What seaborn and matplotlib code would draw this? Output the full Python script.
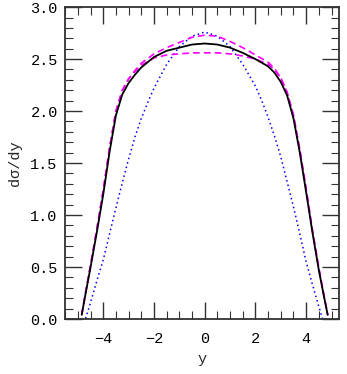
import matplotlib
matplotlib.use("Agg")
import matplotlib.pyplot as plt
import seaborn as sns
from matplotlib.ticker import MultipleLocator, FormatStrFormatter

# rapidity grid and curves
y_full = [-4.85, -4.7, -4.5, -4.25, -4.0, -3.75, -3.5, -3.25, -3.0, -2.75, -2.5,
          -2.0, -1.5, -1.0, -0.5, 0.0, 0.5, 1.0, 1.5, 2.0, 2.5, 2.75, 3.0,
          3.25, 3.5, 3.75, 4.0, 4.25, 4.5, 4.7, 4.85]
solid = [0.04, 0.24, 0.50, 0.84, 1.20, 1.61, 1.96, 2.16, 2.27, 2.35, 2.42,
         2.52, 2.58, 2.61, 2.64, 2.65, 2.64, 2.61, 2.56, 2.50, 2.43, 2.37, 2.28,
         2.15, 1.93, 1.60, 1.22, 0.83, 0.47, 0.22, 0.04]
dash_hi = [0.04, 0.25, 0.52, 0.87, 1.24, 1.65, 2.00, 2.20, 2.31, 2.39, 2.46,
           2.55, 2.61, 2.66, 2.71, 2.73, 2.72, 2.67, 2.61, 2.54, 2.47, 2.41, 2.32,
           2.18, 1.96, 1.63, 1.25, 0.85, 0.49, 0.23, 0.04]
dash_lo = [0.04, 0.25, 0.52, 0.87, 1.24, 1.65, 2.00, 2.20, 2.31, 2.38, 2.44,
           2.51, 2.54, 2.55, 2.56, 2.56, 2.56, 2.55, 2.53, 2.50, 2.45, 2.40, 2.32,
           2.18, 1.96, 1.63, 1.25, 0.85, 0.49, 0.23, 0.04]

y_dot = [-5.4, -4.7, -4.5, -4.25, -4.0, -3.75, -3.5, -3.25, -3.0, -2.75, -2.5,
         -2.25, -2.0, -1.5, -1.0, -0.5, 0.0, 0.5, 1.0, 1.5, 2.0, 2.25, 2.5,
         2.75, 3.0, 3.25, 3.5, 3.75, 4.0, 4.25, 4.5, 4.65]
dotted = [0.0, 0.0, 0.16, 0.37, 0.57, 0.82, 1.07, 1.31, 1.54, 1.75, 1.93,
          2.08, 2.22, 2.45, 2.62, 2.72, 2.76, 2.72, 2.62, 2.45, 2.24, 2.10, 1.94,
          1.76, 1.56, 1.32, 1.08, 0.82, 0.55, 0.33, 0.12, 0.0]

sns.set_style("ticks")
plt.rcParams["font.family"] = ["Liberation Mono", "DejaVu Sans"]

fig = plt.figure(figsize=(3.47, 3.74), dpi=100)
ax = fig.add_axes([0.1865, 0.147, 0.7915, 0.834])

sns.lineplot(x=y_dot, y=dotted, ax=ax, color="blue", linestyle=(0, (1, 2)),
             linewidth=1.1, sort=False)
sns.lineplot(x=y_full, y=dash_lo, ax=ax, color="magenta", linestyle=(0, (4, 2.5)),
             linewidth=1.2, sort=False)
sns.lineplot(x=y_full, y=dash_hi, ax=ax, color="magenta", linestyle=(0, (4, 2.5)),
             linewidth=1.2, sort=False)
sns.lineplot(x=y_full, y=solid, ax=ax, color="black", linewidth=1.3, sort=False)

ax.set_xlim(-5.52, 5.31)
ax.set_ylim(0, 3.0)
ax.xaxis.set_major_locator(MultipleLocator(2))
ax.xaxis.set_minor_locator(MultipleLocator(0.5))
ax.yaxis.set_major_locator(MultipleLocator(0.5))
ax.yaxis.set_minor_locator(MultipleLocator(0.1))
ax.yaxis.set_major_formatter(FormatStrFormatter("%.1f"))
ax.tick_params(which="both", direction="in", top=True, right=True,
               labelsize=11, color="#333333", labelcolor="black")
ax.tick_params(which="major", length=12, width=1.0, pad=5)
ax.tick_params(axis="x", which="major", pad=9)
ax.tick_params(which="minor", length=6, width=0.8)
for s in ax.spines.values():
    s.set_linewidth(1.3)
    s.set_color("#333333")

ax.set_xlabel("y", fontsize=11, labelpad=5)
ax.set_ylabel("dσ/dy", fontsize=11, labelpad=6)

fig.savefig("out.png", dpi=100)
